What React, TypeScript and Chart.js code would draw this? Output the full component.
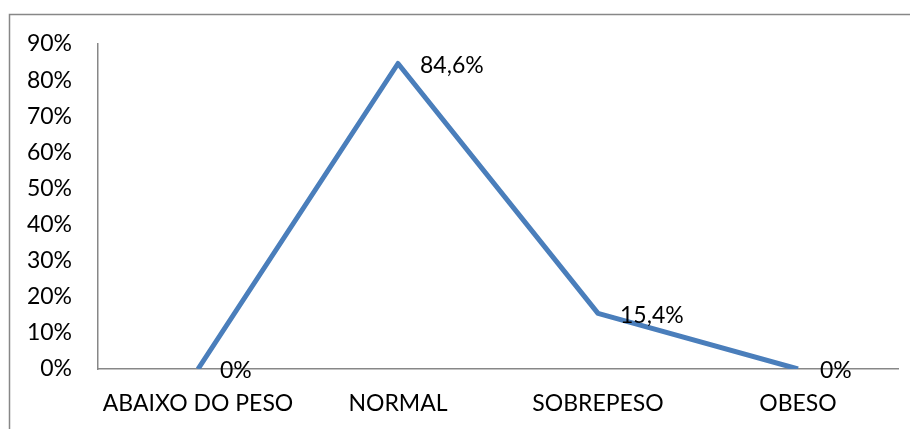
import React, { useEffect, useRef } from "react";
import { Chart, registerables } from "chart.js";

Chart.register(...registerables);

const categories: string[] = ["ABAIXO DO PESO", "NORMAL", "SOBREPESO", "OBESO"];
const percentValues: number[] = [0, 84.6, 15.4, 0];
const yTickValues: number[] = [0, 10, 20, 30, 40, 50, 60, 70, 80, 90];

const FONT_FAMILY = "Lato, 'Open Sans', sans-serif";
const FONT_SIZE = 23;
const LINE_COLOR = "#4a7ebb";
const AXIS_COLOR = "#878787";

const formatPercent = (v: number): string =>
  Number.isInteger(v) ? `${v}%` : `${v.toFixed(1).replace(".", ",")}%`;

// Outer frame around the chart (open at right and bottom edges of the canvas)
const framePlugin = {
  id: "frame",
  beforeDraw(chart: Chart) {
    const ctx = chart.ctx;
    ctx.save();
    ctx.fillStyle = "#ffffff";
    ctx.fillRect(0, 0, chart.width, chart.height);
    ctx.strokeStyle = AXIS_COLOR;
    ctx.lineWidth = 1.5;
    ctx.beginPath();
    ctx.moveTo(9.5, chart.height + 2);
    ctx.lineTo(9.5, 14.5);
    ctx.lineTo(chart.width + 2, 14.5);
    ctx.stroke();
    ctx.restore();
  },
};

// Value labels drawn to the right of each point
const valueLabelPlugin = {
  id: "valueLabels",
  afterDatasetsDraw(chart: Chart) {
    const ctx = chart.ctx;
    const meta = chart.getDatasetMeta(0);
    const data = chart.data.datasets[0].data as number[];
    ctx.save();
    ctx.font = `${FONT_SIZE}px ${FONT_FAMILY}`;
    ctx.fillStyle = "#000000";
    ctx.textAlign = "left";
    ctx.textBaseline = "middle";
    meta.data.forEach((pt: any, i: number) => {
      ctx.fillText(formatPercent(data[i]), pt.x + 22, pt.y + 2);
    });
    ctx.restore();
  },
};

export default function App() {
  const canvasRef = useRef<HTMLCanvasElement | null>(null);

  useEffect(() => {
    if (!canvasRef.current) return;
    const chart = new Chart(canvasRef.current, {
      type: "line",
      data: {
        labels: categories,
        datasets: [
          {
            data: percentValues,
            borderColor: LINE_COLOR,
            borderWidth: 5,
            borderJoinStyle: "round",
            pointRadius: 0,
            pointHoverRadius: 0,
            tension: 0,
            fill: false,
          },
        ],
      },
      options: {
        responsive: false,
        animation: false,
        devicePixelRatio: 1,
        events: [],
        layout: { padding: { left: 0, top: 44, right: 12, bottom: 0 } },
        plugins: {
          legend: { display: false },
          tooltip: { enabled: false },
          title: { display: false },
        },
        scales: {
          x: {
            type: "category",
            offset: true,
            grid: { display: false, drawTicks: false },
            border: { display: true, color: AXIS_COLOR, width: 1.5 },
            ticks: {
              color: "#000000",
              font: { family: FONT_FAMILY, size: FONT_SIZE },
              padding: 21,
              maxRotation: 0,
              autoSkip: false,
            },
            afterFit: (scale: any) => {
              scale.height = 60;
            },
          },
          y: {
            min: 0,
            max: 90,
            afterBuildTicks: (scale: any) => {
              scale.ticks = yTickValues.map((v) => ({ value: v }));
            },
            grid: { display: false, drawTicks: false },
            border: { display: true, color: AXIS_COLOR, width: 1.5 },
            ticks: {
              color: "#000000",
              font: { family: FONT_FAMILY, size: FONT_SIZE },
              padding: 26,
              callback: (v: any) => `${v}%`,
            },
            afterFit: (scale: any) => {
              scale.width = 98;
            },
          },
        },
      },
      plugins: [framePlugin, valueLabelPlugin],
    });
    return () => chart.destroy();
  }, []);

  return (
    <div style={{ position: "absolute", left: 0, top: 0, width: 910, height: 429, overflow: "hidden" }}>
      <canvas ref={canvasRef} width={910} height={429} style={{ width: 910, height: 429, display: "block" }} />
    </div>
  );
}
